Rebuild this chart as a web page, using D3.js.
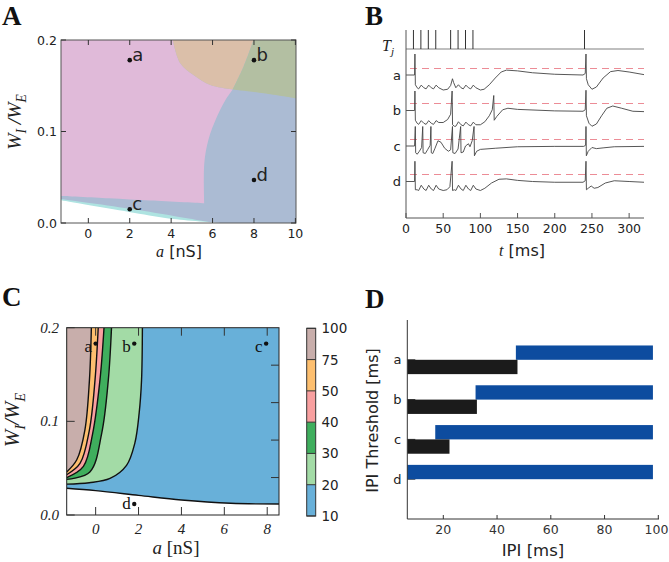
<!DOCTYPE html>
<html><head><meta charset="utf-8">
<script src="https://cdn.jsdelivr.net/npm/d3@7"></script>
<style>body{margin:0;background:#fff} svg{display:block}</style>
</head><body><svg id="c" width="669" height="562"></svg>
<script>
// ================= DATA =================
// ---- Panel A : regime map (a [nS], W_I/W_E)
const aDomainX = [-1.32, 10.03], aDomainY = [0, 0.2];
const aTicksX = [0, 2, 4, 6, 8, 10], aTicksY = [0, 0.1, 0.2];
const aPinkBottom   = [[-1.32,0.0295],[1,0.027],[3,0.0245],[5.6,0.0215]];
const aPinkBlueEdge = [[5.6,0.0215],[5.6,0.065],[5.8,0.091],[6.21,0.116],[6.61,0.134],[6.97,0.146]];
const aTanPinkEdge  = [[4.08,0.2],[4.44,0.1746],[5.08,0.1617],[5.89,0.1508],[6.97,0.146]];
const aTanGreenEdge = [[6.97,0.146],[7.5,0.171],[7.98,0.2]];
const aGreenBlueEdge= [[6.97,0.146],[8.47,0.1418],[10.03,0.1363]];
const aBlueLower    = [[-1.32,0.0262],[2.18,0.015],[4.12,0.0077],[6.05,0.0004]];
const aCyanLower    = [[-1.32,0.0248],[2.18,0.0113],[4.12,0.0044],[6.45,0]];
const aPointNames = ["a","b","c","d"];
const aPointA = [2, 8, 2, 8];
const aPointW = [0.178, 0.178, 0.015, 0.047];

// ---- Panel B : voltage traces
const bDomainT = [0, 320];
const bTicks = [0, 50, 100, 150, 200, 250, 300];
const inputTimes = [10, 20, 30, 40, 60, 70, 80, 90, 240];
const rowNames = ["a","b","c","d"];
const vRest = -65, vThresh = -55;
const traceA = [[0,-65],[11.5,-65],[12,-37],[12.6,-78],[15,-82],[17,-83.5],[20.5,-78.5],[24,-82],[27,-83.5],[30.5,-78.5],[34,-82],[37,-83.5],[40.5,-78.5],[44,-82],[50,-85],[56,-84],[60,-79],[62.5,-70],[64,-75],[67,-82],[70.5,-78],[74,-82],[77,-83.5],[80.5,-78.5],[84,-82],[87,-83.5],[90.5,-78.5],[94,-82],[100,-85],[105,-84],[112,-78],[120,-69],[128,-61],[135,-58.5],[150,-59.5],[170,-62],[200,-64],[238,-65],[241,-63],[242,-37],[242.6,-70],[245,-78],[250,-84],[256,-81],[265,-69],[275,-60.5],[285,-59],[300,-61],[320,-64.5]];
const traceB = [[0,-65],[11.5,-65],[12,-39],[12.6,-78],[15,-82],[17,-83.5],[20.5,-78.5],[24,-82],[27,-83.5],[30.5,-78.5],[34,-82],[37,-83.5],[40.5,-78.5],[44,-81],[50,-81],[56,-77],[60,-70],[62,-39],[62.6,-84],[65,-86],[67,-86],[70.5,-80],[74,-84],[77,-85.5],[80.5,-80.5],[84,-84],[87,-85.5],[90.5,-80.5],[94,-84],[100,-84],[106,-80],[112,-72],[116,-64],[118,-45],[118.6,-78],[122,-73],[130,-64],[137,-62],[150,-63.5],[200,-65.5],[238,-66],[241,-64],[242,-38],[242.6,-72],[246,-82],[250,-86],[256,-83],[263,-72],[270,-62],[278,-59],[290,-62],[305,-66],[320,-66.5]];
const traceC = [[0,-65],[11.5,-65],[12.5,-39],[13,-74],[15,-76],[18,-72],[21,-67],[22.5,-39],[23,-74],[26,-75],[29,-70],[32.5,-64],[33.5,-39],[34,-74],[36,-75],[39,-68],[43,-58],[47,-60],[52,-68],[57,-72],[60,-70],[62.5,-39],[63,-74],[66,-75],[70,-69],[73.5,-39],[74,-74],[77,-73],[80,-65],[84,-62],[86,-66],[89,-58],[91.5,-39],[92,-78],[95,-72],[100,-69.5],[120,-68],[150,-66],[200,-65.5],[239,-65.5],[241.5,-64],[242,-39],[242.5,-78],[245,-72],[250,-67],[256,-68.5],[265,-67.5],[280,-66],[320,-65.5]];
const traceD = [[0,-65],[11.5,-65],[12,-38],[12.6,-76],[15,-76],[17,-77],[20.5,-70],[24,-75],[27,-77],[30.5,-70],[34,-75],[37,-77],[40.5,-70],[44,-75],[50,-77],[55,-76],[59,-72],[62,-38],[62.6,-77],[65,-76],[67,-77],[70.5,-70],[74,-75],[77,-77],[80.5,-70],[84,-75],[87,-77],[90.5,-70],[94,-75],[100,-77],[106,-74],[115,-67],[125,-62],[135,-61.5],[150,-63.5],[170,-65],[200,-66],[238,-66],[241,-64],[242,-38],[242.6,-76],[245,-74],[249,-71],[253,-74],[258,-73],[268,-67],[280,-64],[300,-65],[320,-66]];
const traces = [traceA, traceB, traceC, traceD];

// ---- Panel C : burst-count map
const cDomainX = [-1.35, 8.55], cDomainY = [0, 0.2];
const cTicksX = [0, 2, 4, 6, 8], cTicksY = [0, 0.1, 0.2], cTicksYRight = [0.04, 0.08, 0.12, 0.16];
const cB1 = [[-1.35,0.046],[-0.88,0.059],[-0.5,0.091],[-0.29,0.144],[-0.2,0.2]];
const cB2 = [[-1.35,0.043],[-0.73,0.055],[-0.29,0.091],[-0.03,0.144],[0.12,0.2]];
const cB3 = [[-1.35,0.040],[-0.57,0.052],[-0.14,0.087],[0.2,0.144],[0.39,0.2]];
const cB4 = [[-1.35,0.038],[-0.27,0.046],[0.28,0.087],[0.59,0.144],[0.74,0.2]];
const cB5 = [[-1.35,0.033],[-0.3,0.0345],[0.67,0.039],[1.44,0.053],[1.83,0.077],[2.03,0.109],[2.14,0.144],[2.18,0.2]];
const cB6 = [[-1.35,0.0285],[0,0.026],[2,0.021],[4,0.016],[6.3,0.0125],[8.55,0.0117]];
const cBandLabels = ["10","20","30","40","50","75","100"];
const cBandColors = ["#68b0d9","#a3dba6","#3fae5d","#f9a0a0","#fdbf6f","#c8aeab"];
const cPointNames = ["a","b","c","d"];
const cPointA = [0, 1.8, 7.95, 1.8];
const cPointW = [0.183, 0.183, 0.183, 0.0117];

// ---- Panel D : IPI threshold bars
const dDomainX = [6.6, 100], dTicksX = [20, 40, 60, 80, 100];
const dCats = ["a","b","c","d"];
const dCatPos = [4, 3, 2, 1];
const dBlueStart = [47, 32, 17, 0];
const dBlueEnd   = [98, 98, 98, 98];
const dBlackEnd  = [47.6, 32.5, 22.3, 0];

// ================= DRAW =================
const svg = d3.select("#c");
const SANS = "DejaVu Sans, sans-serif";
const SERIF = "Liberation Serif, 'Times New Roman', serif";

function segPath(segs, xs, ys){
  let d = "";
  segs.forEach((s,i)=>{
    const g = d3.line().x(p=>xs(p[0])).y(p=>ys(p[1])).curve(s.curve || d3.curveLinear);
    let p = g(s.pts);
    if(i>0) p = "L" + p.slice(1);
    d += p;
  });
  return d + "Z";
}
function mathText(sel, parts, size, family){
  parts.forEach(p=>{
    const t = sel.append("tspan").text(p.t)
      .attr("font-style", p.it===false ? "normal" : "italic")
      .attr("font-family", p.fam || family);
    if(p.sub){ t.attr("font-size", size*0.7).attr("dy", size*0.28); }
    else { t.attr("font-size", size); }
    if(p.up) t.attr("dy", -size*0.28);
  });
}
const CR = d3.curveCatmullRom.alpha(0.5);

// Panel letters
[["A",2,25],["B",365,25],["C",2,306],["D",365,308]].forEach(([t,x,y])=>{
  svg.append("text").text(t).attr("x",x).attr("y",y)
    .attr("font-family",SERIF).attr("font-weight","bold").attr("font-size",27).attr("fill","#111");
});

// ---------- Panel A ----------
{
  const x = d3.scaleLinear().domain(aDomainX).range([61,296]);
  const y = d3.scaleLinear().domain(aDomainY).range([223,40]);
  const g = svg.append("g");
  g.append("clipPath").attr("id","clipA").append("rect")
    .attr("x",x.range()[0]).attr("y",y.range()[1]).attr("width",x.range()[1]-x.range()[0]).attr("height",y.range()[0]-y.range()[1]);
  const r = g.append("g").attr("clip-path","url(#clipA)");
  r.append("rect").attr("x",x.range()[0]).attr("y",y.range()[1]).attr("width",x.range()[1]-x.range()[0]).attr("height",y.range()[0]-y.range()[1]).attr("fill","#abbbd3");
  const rev = a => a.slice().reverse();
  r.append("path").attr("fill","#e0bad9").attr("d", segPath([
    {pts:[[aDomainX[0],aDomainY[1]]]},
    {pts:aTanPinkEdge, curve:CR},
    {pts:rev(aPinkBlueEdge), curve:CR},
    {pts:rev(aPinkBottom), curve:CR}], x, y));
  r.append("path").attr("fill","#dbbfa9").attr("d", segPath([
    {pts:aTanPinkEdge, curve:CR},{pts:aTanGreenEdge, curve:CR}], x, y));
  r.append("path").attr("fill","#b3bfa2").attr("d", segPath([
    {pts:rev(aTanGreenEdge), curve:CR},{pts:aGreenBlueEdge, curve:CR},{pts:[[aDomainX[1],aDomainY[1]]]}], x, y));
  r.append("path").attr("fill","#aee3e1").attr("d", segPath([
    {pts:aBlueLower, curve:CR},{pts:[[aCyanLower[aCyanLower.length-1][0],0],[aDomainX[0],0]]}], x, y));
  r.append("path").attr("fill","#ffffff").attr("d", segPath([
    {pts:aCyanLower, curve:CR},{pts:[[aDomainX[0],0]]}], x, y));
  // frame & ticks
  g.append("rect").attr("x",61).attr("y",40).attr("width",235).attr("height",183).attr("fill","none").attr("stroke","#555").attr("stroke-width",1);
  const tk = g.append("g").attr("stroke","#333").attr("stroke-width",1);
  aTicksX.forEach(v=>{
    tk.append("line").attr("x1",x(v)).attr("x2",x(v)).attr("y1",223).attr("y2",218);
    tk.append("line").attr("x1",x(v)).attr("x2",x(v)).attr("y1",40).attr("y2",45);
    g.append("text").text(d3.format("d")(v)).attr("x",x(v)).attr("y",237.5).attr("text-anchor","middle")
      .attr("font-family",SANS).attr("font-size",12.5).attr("fill","#222");
  });
  aTicksY.forEach(v=>{
    tk.append("line").attr("x1",61).attr("x2",66).attr("y1",y(v)).attr("y2",y(v));
    tk.append("line").attr("x1",296).attr("x2",291).attr("y1",y(v)).attr("y2",y(v));
    g.append("text").text(d3.format(".1f")(v)).attr("x",57).attr("y",y(v)+4.5).attr("text-anchor","end")
      .attr("font-family",SANS).attr("font-size",12.5).attr("fill","#222");
  });
  aPointNames.forEach((n,i)=>{
    g.append("circle").attr("cx",x(aPointA[i])).attr("cy",y(aPointW[i])).attr("r",2.3).attr("fill","#111");
    g.append("text").text(n).attr("x",x(aPointA[i])+2.5).attr("y",y(aPointW[i])+1)
      .attr("font-family",SANS).attr("font-size",18).attr("fill","#222");
  });
  const xl = g.append("text").attr("x",179).attr("y",257).attr("text-anchor","middle").attr("fill","#222");
  mathText(xl,[{t:"a",fam:SERIF},{t:" [nS]",it:false,fam:SANS}],16,SERIF);
  const yl = g.append("text").attr("transform","translate(21,122) rotate(-90)").attr("text-anchor","middle").attr("fill","#222");
  mathText(yl,[{t:"W"},{t:"I",sub:true},{t:" /",it:true,up:true},{t:"W"},{t:"E",sub:true}],19.5,SERIF);
}

// ---------- Panel B ----------
{
  const x = d3.scaleLinear().domain(bDomainT).range([406,644]);
  const row = d3.scalePoint().domain(rowNames).range([75,181.5]);
  const vOff = d3.scaleLinear().domain([vRest, vThresh]).range([0,-7.5]);
  const g = svg.append("g");
  // T_j raster
  g.append("line").attr("x1",x(0)).attr("x2",x(320)).attr("y1",49).attr("y2",49).attr("stroke","#aaa").attr("stroke-width",1.6);
  inputTimes.forEach(t=>{
    g.append("line").attr("x1",x(t)).attr("x2",x(t)).attr("y1",49).attr("y2",30).attr("stroke","#333").attr("stroke-width",1);
  });
  const tl = g.append("text").attr("x",382).attr("y",51).attr("fill","#222");
  mathText(tl,[{t:"T"},{t:"j",sub:true}],16,SERIF);
  // rows
  rowNames.forEach((n,i)=>{
    const base = row(n);
    const ty = Math.round(base+vOff(vThresh)) + 0.5;
    g.append("line").attr("x1",x(0)).attr("x2",x(320)).attr("y1",ty).attr("y2",ty)
      .attr("stroke","#ec8c96").attr("stroke-width",1).attr("stroke-dasharray","7,5").attr("stroke-dashoffset",8);
    const line = d3.line().x(p=>x(p[0])).y(p=>base+vOff(p[1]));
    g.append("path").attr("d",line(traces[i])).attr("fill","none").attr("stroke","#444").attr("stroke-width",0.9);
    g.append("text").text(n).attr("x",397).attr("y",base+4.5).attr("text-anchor","middle")
      .attr("font-family",SANS).attr("font-size",13).attr("fill","#222");
  });
  // spines
  g.append("line").attr("x1",406).attr("x2",406).attr("y1",30).attr("y2",218).attr("stroke","#555");
  g.append("line").attr("x1",406).attr("x2",644).attr("y1",218).attr("y2",218).attr("stroke","#555");
  bTicks.forEach(v=>{
    g.append("line").attr("x1",x(v)).attr("x2",x(v)).attr("y1",218).attr("y2",213).attr("stroke","#555");
    g.append("text").text(v).attr("x",x(v)).attr("y",233).attr("text-anchor","middle")
      .attr("font-family",SANS).attr("font-size",12.5).attr("fill","#222");
  });
  const xl = g.append("text").attr("x",522).attr("y",256).attr("text-anchor","middle").attr("fill","#222");
  mathText(xl,[{t:"t",fam:SERIF},{t:" [ms]",it:false,fam:SANS}],16,SERIF);
}

// ---------- Panel C ----------
{
  const x = d3.scaleLinear().domain(cDomainX).range([66.7,279]);
  const y = d3.scaleLinear().domain(cDomainY).range([515,327.7]);
  const g = svg.append("g");
  const W = x.range()[1]-x.range()[0], H = y.range()[0]-y.range()[1];
  g.append("clipPath").attr("id","clipC").append("rect").attr("x",x.range()[0]).attr("y",y.range()[1]).attr("width",W).attr("height",H);
  const r = g.append("g").attr("clip-path","url(#clipC)");
  r.append("rect").attr("x",x.range()[0]).attr("y",y.range()[1]).attr("width",W).attr("height",H).attr("fill",cBandColors[0]);
  const corner = [[cDomainX[0], cDomainY[1]]];
  const bounds = [cB5, cB4, cB3, cB2, cB1];
  bounds.forEach((b,i)=>{
    r.append("path").attr("fill",cBandColors[i+1]).attr("d", segPath([{pts:b,curve:CR},{pts:corner}], x, y));
  });
  r.append("path").attr("fill","#fff").attr("d", segPath([{pts:cB6,curve:CR},{pts:[[cDomainX[1],0],[cDomainX[0],0]]}], x, y));
  const ln = d3.line().x(p=>x(p[0])).y(p=>y(p[1])).curve(CR);
  [cB1,cB2,cB3,cB4,cB5,cB6].forEach(b=>{
    r.append("path").attr("d",ln(b)).attr("fill","none").attr("stroke","#111").attr("stroke-width",1.4);
  });
  g.append("rect").attr("x",x.range()[0]).attr("y",y.range()[1]).attr("width",W).attr("height",H).attr("fill","none").attr("stroke","#222").attr("stroke-width",1);
  const tk = g.append("g").attr("stroke","#333").attr("stroke-width",1);
  cTicksX.forEach(v=>{
    tk.append("line").attr("x1",x(v)).attr("x2",x(v)).attr("y1",515).attr("y2",507);
    tk.append("line").attr("x1",x(v)).attr("x2",x(v)).attr("y1",327.7).attr("y2",335.7);
    g.append("text").text(v).attr("x",x(v)).attr("y",534).attr("text-anchor","middle")
      .attr("font-family",SERIF).attr("font-style","italic").attr("font-size",15).attr("fill","#222");
  });
  cTicksY.forEach(v=>{
    tk.append("line").attr("x1",66.7).attr("x2",74.7).attr("y1",y(v)).attr("y2",y(v));
    g.append("text").text(d3.format(".1f")(v)).attr("x",59).attr("y",y(v)+5).attr("text-anchor","end")
      .attr("font-family",SERIF).attr("font-style","italic").attr("font-size",15).attr("fill","#222");
  });
  cTicksYRight.forEach(v=>{
    tk.append("line").attr("x1",279).attr("x2",271).attr("y1",y(v)).attr("y2",y(v));
  });
  cPointNames.forEach((n,i)=>{
    g.append("circle").attr("cx",x(cPointA[i])).attr("cy",y(cPointW[i])).attr("r",2.2).attr("fill","#111");
    g.append("text").text(n).attr("x",x(cPointA[i])-3.5).attr("y",y(cPointW[i])+(n==="d"?4.5:8)).attr("text-anchor","end")
      .attr("font-family",SERIF).attr("font-size",17).attr("fill","#111");
  });
  const xl = g.append("text").attr("x",176).attr("y",554).attr("text-anchor","middle").attr("fill","#222");
  mathText(xl,[{t:"a"},{t:" [nS]",it:false}],19,SERIF);
  const yl = g.append("text").attr("transform","translate(19,420) rotate(-90)").attr("text-anchor","middle").attr("fill","#222");
  mathText(yl,[{t:"W"},{t:"I",sub:true},{t:"/",up:true},{t:"W"},{t:"E",sub:true}],21,SERIF);
  // colorbar
  const cb = d3.scalePoint().domain(cBandLabels).range([516,328.3]);
  const cbx = 306.7, cbw = 9;
  cBandColors.forEach((c,i)=>{
    const y0 = cb(cBandLabels[i]), y1 = cb(cBandLabels[i+1]);
    g.append("rect").attr("x",cbx).attr("y",y1).attr("width",cbw).attr("height",y0-y1).attr("fill",c);
  });
  cBandLabels.forEach(l=>{
    g.append("line").attr("x1",cbx).attr("x2",cbx+cbw).attr("y1",cb(l)).attr("y2",cb(l)).attr("stroke","#333").attr("stroke-width",1);
    g.append("text").text(l).attr("x",321.5).attr("y",cb(l)+5).attr("font-family",SANS).attr("font-size",13.5).attr("fill","#222");
  });
  g.append("rect").attr("x",cbx).attr("y",328.3).attr("width",cbw).attr("height",516-328.3).attr("fill","none").attr("stroke","#333").attr("stroke-width",1);
}

// ---------- Panel D ----------
{
  const x = d3.scaleLinear().domain(dDomainX).range([407.3,658.3]).clamp(true);
  const y = d3.scaleLinear().domain([0,5]).range([519,320]);
  const h = 0.36;
  const g = svg.append("g");
  dCats.forEach((c,i)=>{
    g.append("line").attr("x1",407.3).attr("x2",415.3).attr("y1",y(dCatPos[i])).attr("y2",y(dCatPos[i])).attr("stroke","#333");
  });
  dCats.forEach((c,i)=>{
    const p = dCatPos[i];
    g.append("rect").attr("x",x(dBlueStart[i])).attr("y",y(p+h)).attr("width",x(dBlueEnd[i])-x(dBlueStart[i])).attr("height",y(p)-y(p+h)).attr("fill","#0d4c9f");
    if(dBlackEnd[i]>dDomainX[0])
      g.append("rect").attr("x",x(0)).attr("y",y(p)).attr("width",x(dBlackEnd[i])-x(0)).attr("height",y(p-h)-y(p)).attr("fill","#1b1b1b");
    g.append("text").text(c).attr("x",397.5).attr("y",y(p)+4.5).attr("text-anchor","middle")
      .attr("font-family",SANS).attr("font-size",13).attr("fill","#222");
  });
  g.append("line").attr("x1",407.3).attr("x2",407.3).attr("y1",320).attr("y2",519).attr("stroke","#333");
  g.append("line").attr("x1",407.3).attr("x2",659).attr("y1",519).attr("y2",519).attr("stroke","#333");
  dTicksX.forEach(v=>{
    g.append("line").attr("x1",x(v)).attr("x2",x(v)).attr("y1",519).attr("y2",515).attr("stroke","#333");
    g.append("text").text(v).attr("x",Math.min(x(v),656.5)).attr("y",534).attr("text-anchor","middle")
      .attr("font-family",SANS).attr("font-size",12.5).attr("fill","#333");
  });
  g.append("text").text("IPI [ms]").attr("x",533).attr("y",556).attr("text-anchor","middle")
    .attr("font-family",SANS).attr("font-size",16.5).attr("fill","#222");
  g.append("text").text("IPI Threshold [ms]").attr("transform","translate(378,420.5) rotate(-90)").attr("text-anchor","middle")
    .attr("font-family",SANS).attr("font-size",16).attr("fill","#222");
}
</script></body></html>
